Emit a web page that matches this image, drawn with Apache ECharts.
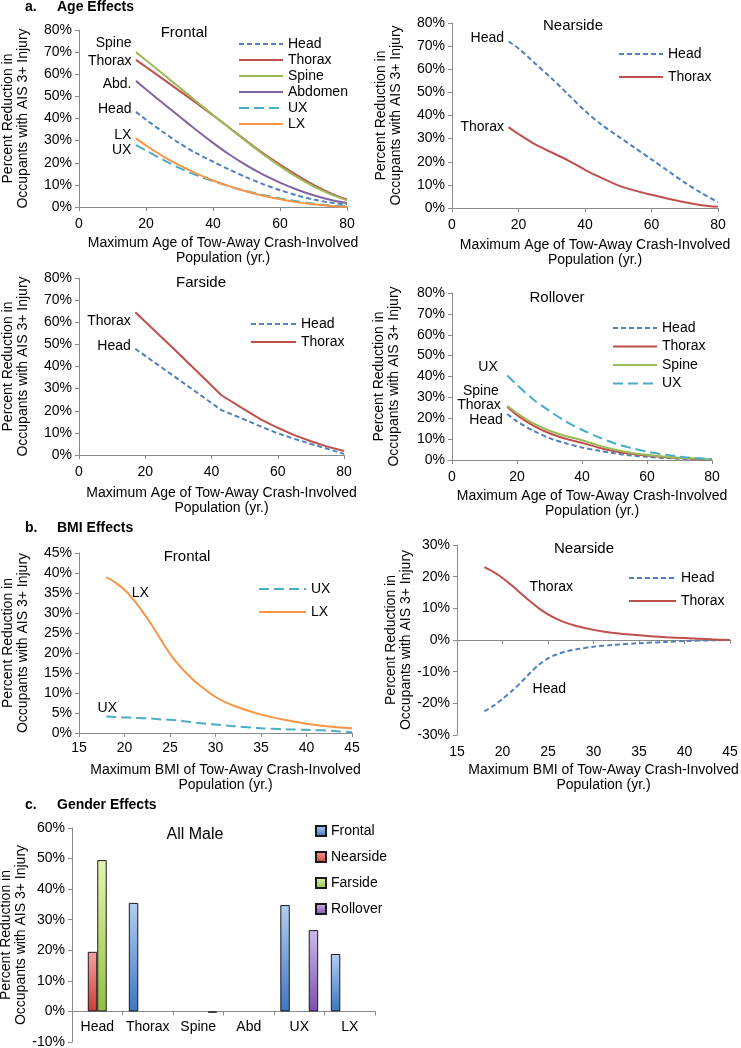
<!DOCTYPE html>
<html>
<head>
<meta charset="utf-8">
<title>Age, BMI and gender effects</title>
<script src="https://cdn.jsdelivr.net/npm/echarts@6/dist/echarts.min.js"></script>
<style>
  html, body { margin: 0; padding: 0; background: #fff; }
  #chart { width: 741px; height: 1048px; }
</style>
</head>
<body>
<div id="chart"></div>
<script>
// ---- a. age effects (percent reduction) ----
const ageX = [17, 20, 25, 30, 35, 40, 45, 50, 55, 60, 65, 70, 75, 80];

const frontalHead    = [43, 39.5, 34, 28.8, 24.3, 20.5, 16.8, 13.4, 10.3, 7.6, 5.3, 3.4, 2, 1.2];
const frontalThorax  = [66.5, 63.3, 57.9, 52.5, 47, 41.5, 35.7, 29.9, 24.3, 19.2, 14.4, 10, 6.3, 3.4];
const frontalSpine   = [70, 66.3, 60.2, 54, 47.8, 41.6, 35.6, 29.6, 23.8, 18.5, 13.6, 9.3, 5.8, 3];
const frontalAbdomen = [57, 53.2, 47, 40.9, 34.8, 29, 23.6, 18.8, 14.6, 11, 7.9, 5.3, 3.3, 1.8];
const frontalUX      = [28, 25.5, 21.4, 17.6, 14.4, 11.7, 9.3, 7.2, 5.4, 3.9, 2.6, 1.5, 0.7, 0.3];
const frontalLX      = [31, 27.8, 23, 18.8, 15.2, 12, 9.3, 7, 5.1, 3.5, 2.2, 1.2, 0.5, 0.1];

const nearHead   = [72, 69, 62.5, 56, 49, 42, 36, 31, 26, 21, 16, 11, 6.5, 2.5];
const nearThorax = [35, 32, 27.5, 24, 20.5, 16.5, 13, 9.8, 7.5, 5.7, 4, 2.5, 1.2, 0.5];

const farX      = [17, 30, 43, 50, 55, 60, 65, 70, 75, 80];
const farHead   = [48, 34.2, 20.3, 16, 12.8, 9.8, 7.3, 5, 2.8, 0.5];
const farThorax = [64.5, 46, 27, 20.5, 16, 12.3, 9, 6.2, 3.8, 1.8];

const rollHead   = [22, 18.5, 14, 10.5, 8, 6, 4.5, 3.2, 2.2, 1.5, 1, 0.6, 0.4, 0.2];
const rollThorax = [25.5, 21.5, 16.5, 12.8, 10.2, 8.2, 6, 4.2, 3, 2.1, 1.4, 0.9, 0.5, 0.3];
const rollSpine  = [26, 22.5, 17.5, 14, 11.5, 9.5, 7, 5, 3.5, 2.5, 1.7, 1.1, 0.7, 0.4];
const rollUX     = [40.5, 36, 29, 23.5, 18.5, 14.5, 11, 8, 5.8, 4, 2.7, 1.6, 0.9, 0.4];

// ---- b. BMI effects ----
const bmiX = [18, 19, 20, 21, 22, 23, 24, 25, 26, 27, 28, 30, 32, 35, 38, 40, 43, 45];
const bmiFrontalUX = [4.1, 4.0, 3.9, 3.8, 3.7, 3.6, 3.4, 3.3, 3.1, 2.8, 2.5, 2.1, 1.7, 1.2, 0.9, 0.8, 0.5, 0.2];
const bmiFrontalLX = [39, 37.6, 35.8, 33.3, 30.3, 27, 23.3, 19.8, 16.9, 14.5, 12.4, 9, 6.8, 4.6, 3.1, 2.3, 1.5, 1.2];
const bmiNearThorax = [23, 21.5, 19.6, 17.3, 14.8, 12.3, 10, 8.1, 6.6, 5.4, 4.5, 3.2, 2.3, 1.5, 0.9, 0.6, 0.2, 0];
const bmiNearHead   = [-22.5, -20.8, -18.6, -16.2, -13.5, -10.5, -7.8, -5.8, -4.5, -3.6, -3, -2.1, -1.6, -1.0, -0.6, -0.3, -0.1, 0];

// ---- c. gender effects (all male) ----
const bodyRegions = ['Head', 'Thorax', 'Spine', 'Abd', 'UX', 'LX'];
const maleFrontal  = [null, 35.5, null, null, 34.8, 18.8];
const maleNearside = [19.5, null, null, null, null, null];
const maleFarside  = [49.5, null, null, null, null, null];
const maleRollover = [null, null, -0.4, null, 26.6, null];
const maleTicks = { min: -10, max: 60, step: 10 };

const FONT = '"Liberation Sans", Arial, Helvetica, sans-serif';
const AXIS_COLOR = '#8a8a8a';
const yName = 'Percent Reduction in\nOccupants with AIS 3+ Injury';
const ageName = 'Maximum Age of Tow-Away Crash-Involved\nPopulation (yr.)';
const bmiName = 'Maximum BMI of Tow-Away Crash-Involved\nPopulation (yr.)';

const ST = {
  Head:    { color: '#4f81bd', type: [5, 3] },
  Thorax:  { color: '#c0504d', type: 'solid' },
  Spine:   { color: '#9bbb59', type: 'solid' },
  Abdomen: { color: '#8064a2', type: 'solid' },
  UX:      { color: '#4bacc6', type: [10, 5] },
  LX:      { color: '#f79646', type: 'solid' }
};

function xVal(gi, min, max, interval, name, nameGap, margin) {
  return {
    type: 'value', gridIndex: gi, min: min, max: max, interval: interval,
    name: name, nameLocation: 'middle', nameGap: nameGap,
    nameTextStyle: { fontFamily: FONT, fontSize: 14, color: '#000', lineHeight: 15, padding: [0, 0, 0, 20] },
    axisLine: { show: true, onZero: true, lineStyle: { color: AXIS_COLOR } },
    axisTick: { show: true, length: 4, lineStyle: { color: AXIS_COLOR } },
    axisLabel: { fontFamily: FONT, fontSize: 14, color: '#000', margin: margin },
    splitLine: { show: false }
  };
}

function yVal(gi, min, max, interval, nameGap) {
  return {
    type: 'value', gridIndex: gi, min: min, max: max, interval: interval,
    name: yName, nameLocation: 'middle', nameGap: nameGap,
    nameTextStyle: { fontFamily: FONT, fontSize: 14, color: '#000', lineHeight: 15 },
    axisLine: { show: true, onZero: false, lineStyle: { color: AXIS_COLOR } },
    axisTick: { show: true, length: 4, lineStyle: { color: AXIS_COLOR } },
    axisLabel: { formatter: '{value}%', fontFamily: FONT, fontSize: 14, color: '#000', margin: 7 },
    splitLine: { show: false }
  };
}

// label next to the first point of a curve
function tag(xs, ys, text, offset, position) {
  return {
    symbol: 'circle', symbolSize: 1, silent: true,
    itemStyle: { color: 'rgba(0,0,0,0)' },
    label: {
      show: true, position: position || 'left', distance: 4, offset: offset,
      formatter: text, color: '#000', fontFamily: FONT, fontSize: 14
    },
    data: [{ coord: [xs[0], ys[0]] }]
  };
}

function line(name, gi, xs, ys, smooth, mark) {
  const st = ST[name];
  return {
    type: 'line', name: name, xAxisIndex: gi, yAxisIndex: gi,
    data: xs.map((x, i) => [x, ys[i]]),
    symbol: 'none', smooth: smooth,
    lineStyle: { color: st.color, width: 2, type: st.type },
    itemStyle: { color: st.color },
    markPoint: mark
  };
}

function legendAt(names, left, top, gap, width) {
  return {
    data: names, orient: 'vertical', left: left, top: top, padding: 0,
    itemGap: gap, itemWidth: width, itemHeight: 14, selectedMode: false,
    itemStyle: { opacity: 0 },
    textStyle: { fontFamily: FONT, fontSize: 14, color: '#000' }
  };
}

function grad(top, bottom) {
  return new echarts.graphic.LinearGradient(0, 0, 0, 1, [
    { offset: 0, color: top }, { offset: 1, color: bottom }
  ]);
}

function bar(name, data, top, bottom) {
  return {
    type: 'bar', name: name, xAxisIndex: 6, yAxisIndex: 6, data: data,
    barGap: 0, barCategoryGap: '25%',
    itemStyle: { color: grad(top, bottom), borderColor: '#1a1a1a', borderWidth: 1 }
  };
}

function txt(t, x, y, size, bold, align) {
  return {
    type: 'text', x: x, y: y, silent: true,
    style: {
      text: t, fill: '#000', fontFamily: FONT, fontSize: size,
      fontWeight: bold ? 'bold' : 'normal', align: align, verticalAlign: 'middle'
    }
  };
}

function box(left, top, width, height) {
  return { left: left, top: top, width: width, height: height, outerBoundsMode: 'none', containLabel: false };
}

const barBox = box(72, 828, 303, 214);
// category axis sits on the 0% line: shift it up from the grid bottom
const zeroShift = -barBox.height * (0 - maleTicks.min) / (maleTicks.max - maleTicks.min);

const chart = echarts.init(document.getElementById('chart'));

chart.setOption({
  animation: false,
  backgroundColor: '#fff',
  grid: [
    box(79, 30, 268, 177),
    box(452, 23, 266, 185),
    box(79, 278, 265, 177),
    box(452, 293, 260, 167),
    box(79, 553, 273, 180),
    box(457, 545, 273, 190),
    barBox
  ],
  xAxis: [
    xVal(0, 0, 80, 20, ageName, 29, 10),
    xVal(1, 0, 80, 20, ageName, 30, 10),
    xVal(2, 0, 80, 20, ageName, 31, 10),
    xVal(3, 0, 80, 20, ageName, 29, 10),
    xVal(4, 15, 45, 5, bmiName, 30, 8),
    xVal(5, 15, 45, 5, bmiName, 28, 10),
    {
      type: 'category', gridIndex: 6, data: bodyRegions,
      position: 'bottom', offset: zeroShift,
      axisLine: { show: true, onZero: false, lineStyle: { color: AXIS_COLOR } },
      axisTick: { show: true, length: 4, lineStyle: { color: AXIS_COLOR } },
      axisLabel: { interval: 0, fontFamily: FONT, fontSize: 14, color: '#000', margin: 9 }
    }
  ],
  yAxis: [
    yVal(0, 0, 80, 10, 48),
    yVal(1, 0, 80, 10, 48),
    yVal(2, 0, 80, 10, 48),
    yVal(3, 0, 80, 10, 50),
    yVal(4, 0, 45, 5, 48),
    yVal(5, -30, 30, 10, 34),
    yVal(6, maleTicks.min, maleTicks.max, maleTicks.step, 43)
  ],
  legend: [
    legendAt(['Head', 'Thorax', 'Spine', 'Abdomen', 'UX', 'LX'], 238, 37, 2, 44),
    legendAt(['Head', 'Thorax'], 618, 47, 9, 44),
    legendAt(['Head', 'Thorax'], 250, 317, 4, 45),
    legendAt(['Head', 'Thorax', 'Spine', 'UX'], 612, 321, 4.5, 44),
    legendAt(['UX', 'LX'], 258, 582, 9, 47),
    legendAt(['Head', 'Thorax'], 628, 571, 9, 47),
    {
      data: ['Frontal', 'Nearside', 'Farside', 'Rollover'], orient: 'vertical',
      left: 315, top: 824, padding: 0, itemGap: 12, itemWidth: 10, itemHeight: 10,
      icon: 'rect', selectedMode: false,
      textStyle: { fontFamily: FONT, fontSize: 14, color: '#000' }
    }
  ],
  series: [
    line('Head', 0, ageX, frontalHead, 0.3, tag(ageX, frontalHead, 'Head', [0, -3])),
    line('Thorax', 0, ageX, frontalThorax, 0.3, tag(ageX, frontalThorax, 'Thorax', [0, 1])),
    line('Spine', 0, ageX, frontalSpine, 0.3, tag(ageX, frontalSpine, 'Spine', [0, -9])),
    line('Abdomen', 0, ageX, frontalAbdomen, 0.3, tag(ageX, frontalAbdomen, 'Abd.', [0, 3])),
    line('UX', 0, ageX, frontalUX, 0.3, tag(ageX, frontalUX, 'UX', [0, 5])),
    line('LX', 0, ageX, frontalLX, 0.3, tag(ageX, frontalLX, 'LX', [0, -3])),

    line('Head', 1, ageX, nearHead, 0.3, tag(ageX, nearHead, 'Head', [0, -3])),
    line('Thorax', 1, ageX, nearThorax, 0.3, tag(ageX, nearThorax, 'Thorax', [0, 0])),

    line('Head', 2, farX, farHead, false, tag(farX, farHead, 'Head', [0, -3])),
    line('Thorax', 2, farX, farThorax, false, tag(farX, farThorax, 'Thorax', [0, 9])),

    line('Head', 3, ageX, rollHead, 0.3, tag(ageX, rollHead, 'Head', [0, 6])),
    line('Thorax', 3, ageX, rollThorax, 0.3, tag(ageX, rollThorax, 'Thorax', [-2, -2])),
    line('Spine', 3, ageX, rollSpine, 0.3, tag(ageX, rollSpine, 'Spine', [-4, -15])),
    line('UX', 3, ageX, rollUX, 0.3, tag(ageX, rollUX, 'UX', [-5, -8])),

    line('UX', 4, bmiX, bmiFrontalUX, 0.3, tag(bmiX, bmiFrontalUX, 'UX', [1, -8], 'inside')),
    line('LX', 4, bmiX, bmiFrontalLX, 0.3, tag(bmiX, bmiFrontalLX, 'LX', [34, 16], 'inside')),

    line('Head', 5, bmiX, bmiNearHead, 0.3, tag(bmiX, bmiNearHead, 'Head', [65, -22], 'inside')),
    line('Thorax', 5, bmiX, bmiNearThorax, 0.3, tag(bmiX, bmiNearThorax, 'Thorax', [67, 20], 'inside')),

    bar('Frontal', maleFrontal, '#b3cff2', '#3f74c0'),
    bar('Nearside', maleNearside, '#f5a3a1', '#cc3b36'),
    bar('Farside', maleFarside, '#e4f5b0', '#93bf45'),
    bar('Rollover', maleRollover, '#cdb9ea', '#7852ab')
  ],
  graphic: [
    txt('a.', 25, 7, 14, true, 'left'),
    txt('Age Effects', 57, 7, 14, true, 'left'),
    txt('b.', 25, 528, 14, true, 'left'),
    txt('BMI Effects', 57, 528, 14, true, 'left'),
    txt('c.', 25, 805, 14, true, 'left'),
    txt('Gender Effects', 57, 805, 14, true, 'left'),
    txt('Frontal', 184, 33, 15, false, 'center'),
    txt('Nearside', 573, 26, 15, false, 'center'),
    txt('Farside', 201, 283, 15, false, 'center'),
    txt('Rollover', 557, 298, 15, false, 'center'),
    txt('Frontal', 187, 557, 15, false, 'center'),
    txt('Nearside', 584, 549, 15, false, 'center'),
    txt('All Male', 195, 835, 16, false, 'center')
  ]
});
</script>
</body>
</html>
